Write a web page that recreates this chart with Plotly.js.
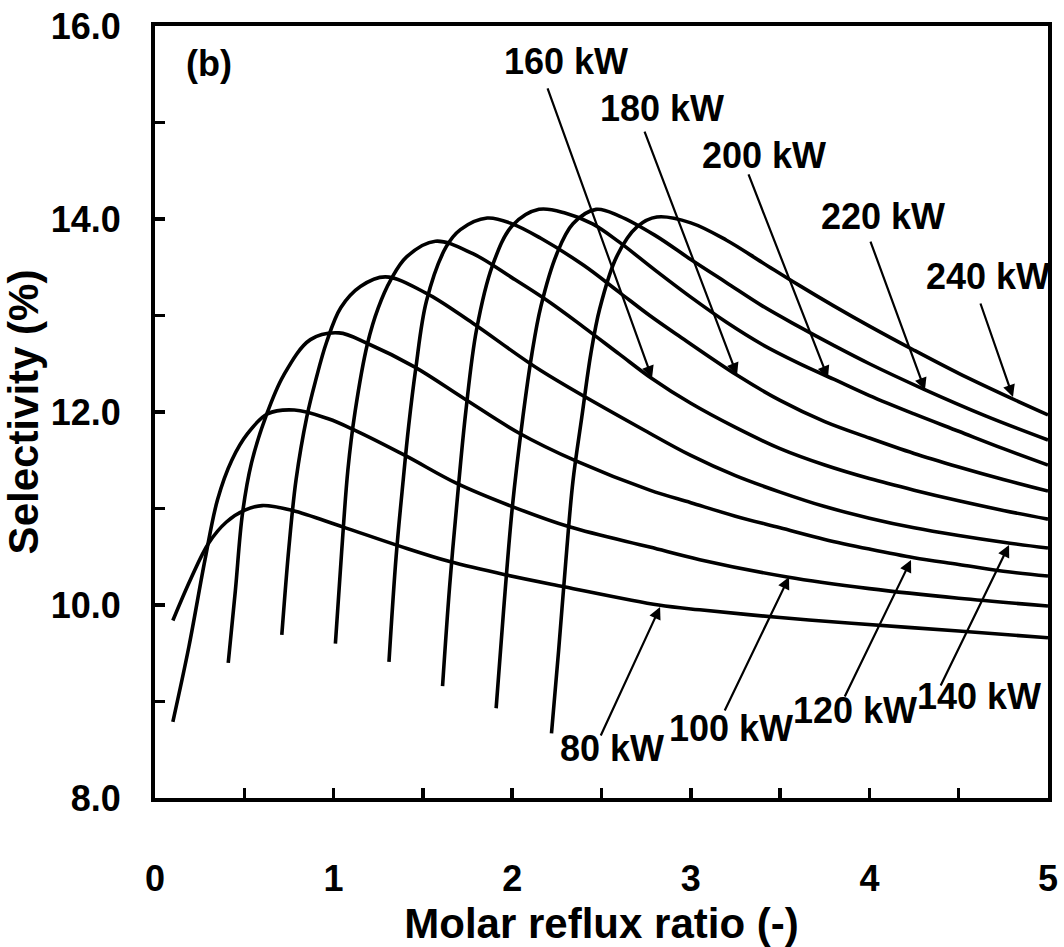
<!DOCTYPE html>
<html>
<head>
<meta charset="utf-8">
<script src="https://cdn.plot.ly/plotly-3.0.1.min.js"></script>
<style>html,body{margin:0;padding:0;background:#fff;}#chart{width:1064px;height:947px;}</style>
</head>
<body>
<div id="chart"></div>
<script>
// Heat-duty series (kW) and their curves: molar reflux ratio (x) vs selectivity % (y)
const dutyLabels = ["80 kW","100 kW","120 kW","140 kW","160 kW","180 kW","200 kW","220 kW","240 kW"];

const x80  = [0.10,0.20,0.30,0.40,0.50,0.60,0.77,1.05,1.37,1.65,1.97,2.29,2.82,3.05,3.50,3.90,4.50,5.00];
const y80  = [9.84,10.27,10.64,10.86,10.98,11.03,10.98,10.81,10.61,10.45,10.31,10.19,10.00,9.95,9.87,9.81,9.73,9.66];

const x100 = [0.10,0.19,0.28,0.35,0.43,0.52,0.63,0.78,0.97,1.12,1.40,1.69,2.00,2.32,2.77,3.05,3.54,4.00,4.50,5.00];
const y100 = [8.79,9.57,10.47,11.09,11.50,11.78,11.98,12.02,11.93,11.81,11.55,11.26,11.02,10.81,10.60,10.47,10.29,10.17,10.07,9.99];

const x120 = [0.41,0.45,0.49,0.54,0.62,0.72,0.87,1.03,1.19,1.45,1.73,2.04,2.36,2.77,3.00,3.25,3.50,3.75,4.00,4.25,4.50,4.75,5.00];
const y120 = [9.40,10.15,10.95,11.47,11.95,12.38,12.75,12.82,12.71,12.47,12.14,11.78,11.49,11.19,11.06,10.92,10.80,10.68,10.58,10.49,10.42,10.35,10.30];

const x140 = [0.71,0.75,0.79,0.85,0.90,0.96,1.04,1.15,1.29,1.52,1.78,2.16,2.77,3.00,3.25,3.50,3.75,4.00,4.25,4.50,4.75,5.00];
const y140 = [9.69,10.60,11.30,11.95,12.33,12.72,13.08,13.30,13.40,13.23,12.92,12.43,11.78,11.55,11.34,11.17,11.02,10.90,10.80,10.72,10.65,10.59];

const x160 = [1.01,1.045,1.08,1.12,1.19,1.25,1.32,1.41,1.57,1.78,2.00,2.20,2.40,2.60,2.78,3.00,3.25,3.50,3.75,4.00,4.25,4.50,4.75,5.00];
const y160 = [9.60,10.55,11.40,12.00,12.71,13.08,13.37,13.61,13.77,13.64,13.39,13.15,12.88,12.60,12.35,12.09,11.84,11.62,11.45,11.31,11.19,11.08,10.98,10.89];

const x180 = [1.31,1.35,1.39,1.42,1.46,1.52,1.63,1.71,1.86,2.00,2.16,2.40,2.60,2.77,2.94,3.26,3.50,3.75,4.00,4.25,4.50,4.75,5.00];
const y180 = [9.41,10.50,11.30,11.85,12.45,13.15,13.71,13.89,14.01,13.95,13.80,13.52,13.24,13.00,12.78,12.38,12.12,11.90,11.73,11.57,11.43,11.30,11.18];

const x200 = [1.61,1.65,1.70,1.74,1.80,1.89,2.00,2.15,2.30,2.45,2.60,2.80,3.00,3.20,3.40,3.60,3.80,4.00,4.25,4.50,4.75,5.00];
const y200 = [9.16,10.20,11.25,12.00,12.85,13.52,13.93,14.10,14.06,13.95,13.76,13.47,13.19,12.93,12.70,12.51,12.34,12.17,11.98,11.80,11.62,11.45];

const x220 = [1.91,1.95,2.00,2.06,2.11,2.16,2.25,2.34,2.47,2.60,2.80,3.00,3.20,3.40,3.60,3.80,4.00,4.30,4.65,5.00];
const y220 = [8.93,9.90,11.00,11.95,12.60,13.09,13.64,13.95,14.10,14.03,13.83,13.58,13.34,13.10,12.89,12.69,12.50,12.24,11.96,11.71];

const x240 = [2.22,2.26,2.30,2.34,2.39,2.44,2.49,2.585,2.70,2.81,3.00,3.20,3.40,3.60,3.80,4.00,4.25,4.50,4.75,5.00];
const y240 = [8.67,9.53,10.45,11.28,11.95,12.60,13.07,13.61,13.92,14.02,13.96,13.78,13.55,13.32,13.10,12.89,12.64,12.40,12.18,11.97];

const xTickVals = [0,1,2,3,4,5];
const xTickText = ["0","1","2","3","4","5"];
const yTickVals = [8,10,12,14,16];
const yTickText = ["8.0","10.0","12.0","14.0","16.0"];

const seriesX = [x80,x100,x120,x140,x160,x180,x200,x220,x240];
const seriesY = [y80,y100,y120,y140,y160,y180,y200,y220,y240];

const FONT = "Liberation Sans, Arial, sans-serif";

const traces = seriesX.map((xs, i) => ({
  x: xs, y: seriesY[i], name: dutyLabels[i], type: "scatter", mode: "lines",
  line: {color: "#000", width: 3.6, shape: "spline", smoothing: 1},
  showlegend: false, hoverinfo: "skip"
}));

// label placement (layout config): [label center x, y, arrow tail x, y, arrow tip x, y]
const labelLayout = [
  [2.559, 8.518, 2.492, 8.632, 2.828, 9.979],
  [3.225, 8.725, 3.186, 8.891, 3.550, 10.290],
  [3.919, 8.902, 3.858, 9.036, 4.233, 10.466],
  [4.614, 9.047, 4.395, 9.150, 4.782, 10.622],
  [2.301, 15.627, 2.195, 15.368, 2.783, 12.352],
  [2.839, 15.150, 2.738, 14.922, 3.259, 12.383],
  [3.410, 14.663, 3.320, 14.477, 3.768, 12.352],
  [4.076, 14.031, 4.003, 13.782, 4.311, 12.228],
  [4.664, 13.409, 4.619, 13.140, 4.804, 12.155]
];

const annotations = [];
labelLayout.forEach((p, i) => {
  annotations.push({x: p[0], y: p[1], xref: "x", yref: "y", text: dutyLabels[i], showarrow: false,
    font: {family: FONT, size: 36, color: "#000", weight: "bold"}, xanchor: "center", yanchor: "middle"});
  annotations.push({x: p[4], y: p[5], xref: "x", yref: "y", ax: p[2], ay: p[3], axref: "x", ayref: "y",
    text: "", showarrow: true, arrowhead: 2, arrowsize: 1.1, arrowwidth: 2.2, arrowcolor: "#000", standoff: 0, startstandoff: 0});
});
annotations.push({x: 0.302, y: 15.61, xref: "x", yref: "y", text: "(b)", showarrow: false,
  font: {family: FONT, size: 36, color: "#000", weight: "bold"}});

const axisCommon = {
  showgrid: false, zeroline: false, showline: true, linecolor: "#000", linewidth: 4, mirror: true,
  ticks: "inside", ticklen: 10, tickwidth: 3.5, tickcolor: "#000",
  tickfont: {family: FONT, size: 36, color: "#000", weight: "bold"}
};

const layout = {
  width: 1064, height: 947,
  margin: {l: 155, r: 16, t: 26, b: 149},
  paper_bgcolor: "#fff", plot_bgcolor: "#fff",
  xaxis: Object.assign({}, axisCommon, {
    range: [0, 5], tickmode: "array", tickvals: xTickVals, ticktext: xTickText,
    minor: {tickmode: "linear", tick0: 0, dtick: 0.5, ticks: "inside", ticklen: 10, tickwidth: 3.5, tickcolor: "#000", showgrid: false},
    ticklabelstandoff: 46,
    title: {text: "Molar reflux ratio (-)", font: {family: FONT, size: 42, color: "#000", weight: "bold"}, standoff: 16}
  }),
  yaxis: Object.assign({}, axisCommon, {
    range: [8, 16], tickmode: "array", tickvals: yTickVals, ticktext: yTickText,
    minor: {tickmode: "linear", tick0: 8, dtick: 1, ticks: "inside", ticklen: 10, tickwidth: 3.5, tickcolor: "#000", showgrid: false},
    ticklabelstandoff: 23,
    title: {text: "Selectivity (%)", font: {family: FONT, size: 42, color: "#000", weight: "bold"}, standoff: 0}
  }),
  annotations: annotations
};

Plotly.newPlot("chart", traces, layout, {staticPlot: true, displayModeBar: false});
</script>
</body>
</html>
